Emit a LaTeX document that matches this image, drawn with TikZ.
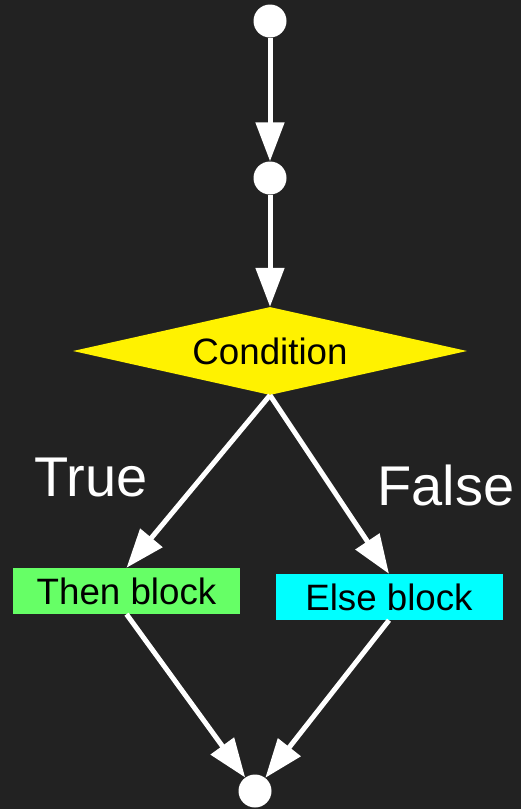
\documentclass[tikz,border=0pt]{standalone}
\usepackage{fontspec}
\setmainfont{Liberation Sans}
\usepackage{tikz}
\usetikzlibrary{shapes.geometric,arrows.meta}
\definecolor{bgdark}{HTML}{222222}
\definecolor{thengreen}{HTML}{66FF66}
\definecolor{elsecyan}{HTML}{00FFFF}
\tikzstyle{junction}=[circle,fill=white,minimum size=33pt,inner sep=0pt]
\tikzstyle{test}=[diamond,fill=yellow,minimum width=394pt,minimum height=88pt,aspect=4.48,inner sep=0pt,font=\fontsize{36.7pt}{40pt}\selectfont]
\tikzstyle{blockbox}=[rectangle,minimum width=227pt,minimum height=46pt,inner sep=0pt,font=\fontsize{36.7pt}{40pt}\selectfont]
\tikzstyle{branch}=[white,inner sep=0pt,font=\fontsize{56pt}{60pt}\selectfont]
\tikzstyle{flow}=[draw=white,line width=5pt,-{Triangle[length=39pt,width=28pt]}]

\begin{document}
\begin{tikzpicture}[x=1pt,y=-1pt]
        \fill[bgdark] (0,0) rectangle (521,809);
        \node[junction] (start) at (270,21) {};
        \node[junction] (entry) at (270,178) {};
        \node[test] (cond) at (270,351) {Condition};
        \node[blockbox,fill=thengreen] (then) at (126.5,591) {Then block};
        \node[blockbox,fill=elsecyan] (else) at (389,597) {Else block};
        \node[junction] (merge) at (255,791) {};
        \node[branch] (truelbl) at (91,478) {True};
        \node[branch] (falselbl) at (446,485) {False};
        \draw[flow] (start) -- (entry);
        \draw[flow] (entry) -- (cond.north);
        \draw[flow] (cond.south) -- (then.north);
        \draw[flow] (cond.south) -- (else.north);
        \draw[flow] (then.south) -- (merge);
        \draw[flow] (else.south) -- (merge);
\end{tikzpicture}
\end{document}
